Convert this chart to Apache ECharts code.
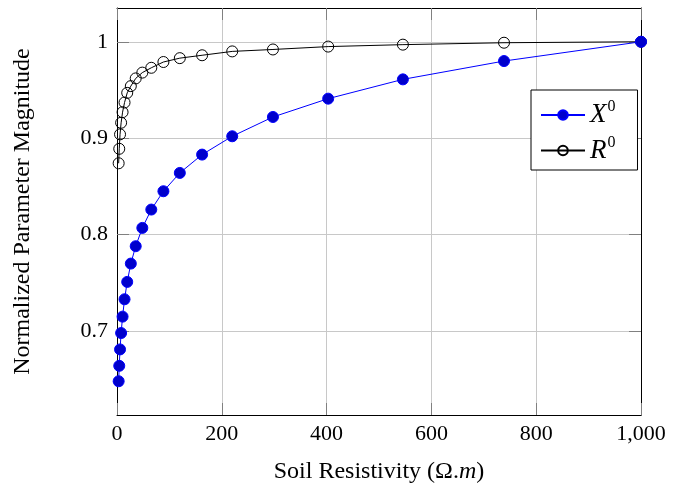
<!DOCTYPE html>
<html><head><meta charset="utf-8">
<script src="https://cdn.jsdelivr.net/npm/echarts@6/dist/echarts.min.js"></script>
<style>html,body{margin:0;padding:0;background:#fff}#c{width:679px;height:489px}</style>
</head><body><div id="c"></div>
<script>
const resistivity = [3.16, 4.28, 5.80, 7.85, 10.62, 14.38, 19.48, 26.37, 35.70, 48.33, 65.43, 88.59, 119.9, 162.4, 219.9, 297.6, 403.0, 545.6, 738.6, 1000];
const x0Values = [0.648, 0.664, 0.681, 0.698, 0.715, 0.733, 0.751, 0.770, 0.788, 0.807, 0.826, 0.845, 0.864, 0.883, 0.902, 0.922, 0.941, 0.961, 0.980, 1.0];
const r0Values = [0.874, 0.889, 0.904, 0.916, 0.927, 0.937, 0.947, 0.954, 0.962, 0.968, 0.973, 0.979, 0.983, 0.986, 0.990, 0.992, 0.995, 0.997, 0.999, 1.0];
const seriesNames = ['X0', 'R0'];
const legendLabels = {X0: '{i|X}{s|0}', R0: '{i|R}{s|0}'};
const xTicks = [0, 200, 400, 600, 800, 1000];
const xTickLabels = ['0', '200', '400', '600', '800', '1,000'];
const yTicks = [0.7, 0.8, 0.9, 1.0];
const yTickLabels = ['0.7', '0.8', '0.9', '1'];
const xTitle = 'Soil Resistivity (Ω.{m|m})';
const yTitle = 'Normalized Parameter Magnitude';

const FONT = '"Liberation Serif", "DejaVu Serif", serif';
const chart = echarts.init(document.getElementById('c'), null, {renderer: 'canvas'});
const pair = (ys) => resistivity.map((x, i) => [x, ys[i]]);
const tickStyle = {show: true, inside: true, length: 12, lineStyle: {color: '#808080', width: 1}};
const xLabelFmt = v => { const i = xTicks.indexOf(v); return i >= 0 ? xTickLabels[i] : ''; };
const yLabelFmt = v => { const i = yTicks.findIndex(t => Math.abs(t - v) < 1e-9); return i >= 0 ? yTickLabels[i] : ''; };

chart.setOption({
  animation: false,
  backgroundColor: '#fff',
  grid: {left: 117, right: 38, top: 8, bottom: 72, containLabel: false},
  xAxis: [{
    type: 'value', min: 0, max: 1000, interval: 200, position: 'bottom',
    name: xTitle, nameLocation: 'middle', nameGap: 45,
    nameTextStyle: {fontFamily: FONT, fontSize: 24, color: '#000',
      rich: {m: {fontFamily: FONT, fontSize: 24, fontStyle: 'italic', color: '#000'}}},
    axisLine: {show: true, onZero: false, lineStyle: {color: '#000', width: 1}},
    axisTick: tickStyle,
    axisLabel: {fontFamily: FONT, fontSize: 22, color: '#000', margin: 8, formatter: xLabelFmt},
    splitLine: {show: true, lineStyle: {color: '#c8c8c8', width: 1}}
  }, {
    type: 'value', min: 0, max: 1000, interval: 200, position: 'top',
    axisLine: {show: true, onZero: false, lineStyle: {color: '#000', width: 1}},
    axisTick: tickStyle, axisLabel: {show: false}, splitLine: {show: false}
  }],
  yAxis: [{
    type: 'value', min: 0.613, max: 1.035, position: 'left',
    name: yTitle, nameLocation: 'middle', nameGap: 82, nameRotate: 90,
    nameTextStyle: {fontFamily: FONT, fontSize: 24, color: '#000'},
    axisLine: {show: true, onZero: false, lineStyle: {color: '#000', width: 1}},
    axisTick: Object.assign({customValues: yTicks}, tickStyle),
    axisLabel: {customValues: yTicks, fontFamily: FONT, fontSize: 22, color: '#000', margin: 9, formatter: yLabelFmt},
    splitLine: {show: true, lineStyle: {color: '#c8c8c8', width: 1}}
  }, {
    type: 'value', min: 0.613, max: 1.035, position: 'right',
    axisLine: {show: true, onZero: false, lineStyle: {color: '#000', width: 1}},
    axisTick: Object.assign({customValues: yTicks}, tickStyle),
    axisLabel: {show: false}, splitLine: {show: false}
  }],
  legend: {
    show: true, orient: 'vertical', left: 531, top: 90,
    padding: [9, 22, 6, 9], itemGap: 6, itemWidth: 44, itemHeight: 12,
    backgroundColor: '#fff', borderColor: '#000', borderWidth: 1, borderRadius: 0,
    data: seriesNames,
    formatter: name => legendLabels[name],
    textStyle: {
      color: '#000', fontFamily: FONT, fontSize: 22,
      rich: {
        i: {fontFamily: FONT, fontStyle: 'italic', fontSize: 27, color: '#000'},
        s: {fontFamily: FONT, fontSize: 16, color: '#000', padding: [0, 0, 16, 1]}
      }
    }
  },
  series: [{
    name: seriesNames[0], type: 'line', xAxisIndex: 0, yAxisIndex: 0,
    data: pair(x0Values), symbol: 'circle', symbolSize: 11, z: 3,
    lineStyle: {color: '#0000ff', width: 1},
    itemStyle: {color: '#0000cc', borderColor: '#0000ff', borderWidth: 1}
  }, {
    name: seriesNames[1], type: 'line', xAxisIndex: 0, yAxisIndex: 0,
    data: pair(r0Values), symbol: 'circle', symbolSize: 11, z: 2,
    lineStyle: {color: '#000', width: 1},
    itemStyle: {color: 'rgba(255,255,255,0)', borderColor: '#000', borderWidth: 1}
  }]
});
</script></body></html>
